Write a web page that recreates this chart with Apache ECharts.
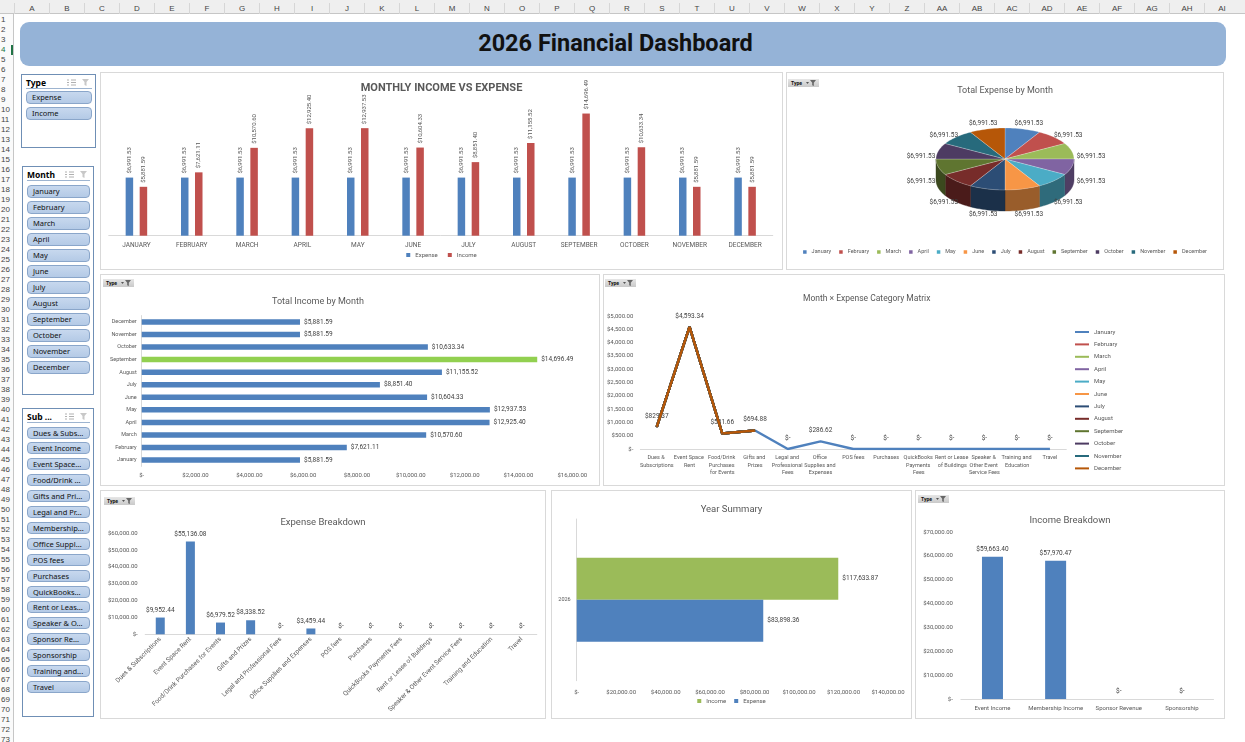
<!DOCTYPE html>
<html><head><meta charset="utf-8">
<script src="https://cdn.jsdelivr.net/npm/echarts@6/dist/echarts.min.js"></script>
<style>
body{margin:0;width:1245px;height:742px;overflow:hidden;background:#fff;position:relative;font-family:'Noto Sans',sans-serif}
#colhdr{position:absolute;left:0;top:0;width:1245px;height:14px;background:#EFEFEF;border-bottom:1px solid #C6C6C6;box-sizing:border-box}
.col{position:absolute;top:3px;width:35px;height:11px;text-align:center;font:8px 'Liberation Sans',sans-serif;color:#444;line-height:11px;border-left:1px solid #D6D6D6;box-sizing:border-box}
#rowhdr{position:absolute;left:0;top:14px;width:14px;height:728px;border-right:1px solid #C6C6C6;box-sizing:border-box;background:#FAFAFA}
.row{position:absolute;left:1px;width:12px;height:10px;font:8px 'Liberation Sans',sans-serif;color:#444;line-height:10px}
.row.sel{color:#217346;border-right:2px solid #217346;box-sizing:border-box}
#banner{position:absolute;left:20px;top:22px;width:1206px;height:44px;background:#95B3D7;border-radius:9px}
#banner span{position:absolute;left:436px;top:0;width:319px;height:44px;text-align:center;white-space:nowrap;font:bold 23.5px Roboto,sans-serif;line-height:43px;color:#111}
.panel{position:absolute;border:1px solid #D9D9D9;box-sizing:border-box;background:#fff}
.panel .ch{position:absolute;left:0;top:0;width:100%;height:100%}
.fbtn{position:absolute;width:31px;height:8px;background:linear-gradient(#E6E6E6,#C9C9C9);z-index:3;font:bold 5px Roboto,sans-serif;line-height:8px;color:#111;padding-left:3px;box-sizing:border-box}
.fbtn svg{position:absolute;right:3px;top:1px}
.slicer{position:absolute;border:1px solid #6F8FB5;box-sizing:border-box;background:#fff}
.slicer .hd{position:absolute;left:4px;top:2px;right:3px;height:11px;border-bottom:1px solid #9DB4D0;font:bold 8.5px 'Noto Sans',sans-serif;line-height:11px;color:#000}
.slicer .hd svg{position:absolute;top:2px}
.slicer .it{position:absolute;left:4px;right:3px;background:linear-gradient(#C7D8EE,#B4CAE6);border:1px solid #8AA6CA;border-radius:4px;box-sizing:border-box;font:7.5px 'Noto Sans',sans-serif;color:#111;padding-left:5px;white-space:nowrap;overflow:hidden}
</style></head>
<body>
<div id="colhdr"></div>
<div id="rowhdr"></div>
<div id="banner"><span>2026 Financial Dashboard</span></div>

<div class="slicer" id="slType" style="left:21px;top:74px;width:75px;height:74px"></div>
<div class="slicer" id="slMonth" style="left:22px;top:166px;width:72px;height:229px"></div>
<div class="slicer" id="slSub" style="left:22px;top:408px;width:72px;height:309px"></div>

<div class="panel" style="left:100px;top:72px;width:683px;height:198px"><div class="ch" id="c1"></div></div>
<div class="panel" style="left:786px;top:72px;width:438px;height:198px"><div class="ch" id="c2"></div><div class="fbtn" style="left:1px;top:6px">Type</div></div>
<div class="panel" style="left:100px;top:274px;width:500px;height:212px"><div class="ch" id="c3"></div><div class="fbtn" style="left:2px;top:4px">Type</div></div>
<div class="panel" style="left:603px;top:274px;width:622px;height:212px"><div class="ch" id="c4"></div><div class="fbtn" style="left:1px;top:4px">Type</div></div>
<div class="panel" style="left:100px;top:490px;width:446px;height:229px"><div class="ch" id="c5"></div><div class="fbtn" style="left:3px;top:6px">Type</div></div>
<div class="panel" style="left:551px;top:490px;width:361px;height:229px"><div class="ch" id="c6"></div></div>
<div class="panel" style="left:915px;top:490px;width:310px;height:229px"><div class="ch" id="c7"></div><div class="fbtn" style="left:2px;top:4px">Type</div></div>

<script>
// ---------------- DATA ----------------
const months = ['January','February','March','April','May','June','July','August','September','October','November','December'];
const monthlyExpense = [6991.53,6991.53,6991.53,6991.53,6991.53,6991.53,6991.53,6991.53,6991.53,6991.53,6991.53,6991.53];
const monthlyIncome = [5881.59,7621.11,10570.60,12925.40,12937.53,10604.33,8851.40,11155.52,14696.49,10633.34,5881.59,5881.59];
const highlightMonth = 'September';
const expenseCategories = ['Dues & Subscriptions','Event Space Rent','Food/Drink Purchases for Events','Gifts and Prizes','Legal and Professional Fees','Office Supplies and Expenses','POS fees','Purchases','QuickBooks Payments Fees','Rent or Lease of Buildings','Speaker & Other Event Service Fees','Training and Education','Travel'];
const expenseTotals = [9952.44,55136.08,6979.52,8338.52,0,3459.44,0,0,0,0,0,0,0];
const matrixJanuary = [829.37,4593.34,581.66,694.88,0,286.62,0,0,0,0,0,0,0];
const matrixOtherMonths = [829.37,4593.34,581.66,694.88,null,null,null,null,null,null,null,null,null];
const incomeCategories = ['Event Income','Membership Income','Sponsor Revenue','Sponsorship'];
const incomeTotals = [59663.40,57970.47,0,0];
const yearLabels = ['2026'];
const yearIncome = [117633.87];
const yearExpense = [83898.36];
const typeItems = ['Expense','Income'];
const subItems = ['Dues & Subs...','Event Income','Event Space...','Food/Drink ...','Gifts and Pri...','Legal and Pr...','Membership...','Office Suppl...','POS fees','Purchases','QuickBooks...','Rent or Leas...','Speaker & O...','Sponsor Re...','Sponsorship','Training and...','Travel'];

// ---------------- STYLE ----------------
const palette = ['#4F81BD','#C0504D','#9BBB59','#8064A2','#4BACC6','#F79646','#2C4D75','#772C2A','#5F7530','#4D3B62','#276A7C','#B65708'];
const FF = 'Roboto, sans-serif';
const TXT = '#595959';
function money(v){ if (v === 0 || v === null) return '$-'; return '$' + Number(v).toLocaleString('en-US',{minimumFractionDigits:2,maximumFractionDigits:2}); }
function darken(hex, f){ const n=parseInt(hex.slice(1),16); const r=(n>>16)&255,g=(n>>8)&255,b=n&255; return 'rgb('+Math.round(r*f)+','+Math.round(g*f)+','+Math.round(b*f)+')'; }

// ---------------- SHEET CHROME ----------------
(function(){
  const ch = document.getElementById('colhdr');
  for (let i=0;i<35;i++){
    const L = i<26 ? String.fromCharCode(65+i) : 'A'+String.fromCharCode(65+i-26);
    const d=document.createElement('div'); d.className='col'; d.style.left=(14+35*i)+'px'; d.textContent=L; ch.appendChild(d);
  }
  const rh = document.getElementById('rowhdr');
  for (let r=1;r<=73;r++){
    const d=document.createElement('div'); d.className='row'+(r===4?' sel':''); d.style.top=(0.5+10*(r-1))+'px'; d.textContent=r; rh.appendChild(d);
  }
  const icons = '<svg width="9" height="7" style="right:16px"><g stroke="#B0B0B0" stroke-width="1"><line x1="4" y1="1" x2="9" y2="1"/><line x1="4" y1="3.5" x2="9" y2="3.5"/><line x1="4" y1="6" x2="9" y2="6"/><line x1="0" y1="1" x2="2" y2="1"/><line x1="0" y1="3.5" x2="2" y2="3.5"/><line x1="0" y1="6" x2="2" y2="6"/></g></svg>'+
                '<svg width="8" height="7" style="right:2px"><path d="M0 0 H7 L4.5 3 V7 L2.5 6 V3 Z" fill="#C8C8C8"/></svg>';
  function slicer(id, title, items, startTop, step, h){
    const el=document.getElementById(id);
    el.innerHTML='<div class="hd">'+title+icons+'</div>';
    items.forEach((t,i)=>{ const d=document.createElement('div'); d.className='it'; d.style.top=(startTop+step*i)+'px'; d.style.height=h+'px'; d.style.lineHeight=(h-2)+'px'; d.textContent=t; el.appendChild(d); });
  }
  slicer('slType','Type',typeItems,16,16,13);
  slicer('slMonth','Month',months,18,16,13);
  slicer('slSub','Sub ...',subItems,17.5,15.9,12);
  document.querySelectorAll('.fbtn').forEach(b=>{ b.innerHTML='Type<svg width="10" height="6"><path d="M0 2 L3 2 L1.5 4 Z" fill="#555"/><path d="M4 0 H10 L7.8 2.8 V6 L6.2 5.2 V2.8 Z" fill="#666"/></svg>'; });
})();

function mk(id){ return echarts.init(document.getElementById(id), null, {renderer:'canvas'}); }

// ---------------- CHART 1: Monthly Income vs Expense ----------------
mk('c1').setOption({
  animation:false, textStyle:{fontFamily:FF},
  title:{text:'MONTHLY INCOME VS EXPENSE', left:'center', top:5, textStyle:{fontSize:11, fontWeight:'bold', color:TXT, fontFamily:FF}},
  legend:{data:['Expense','Income'], bottom:6, icon:'rect', itemWidth:4, itemHeight:4, itemGap:10, textStyle:{fontSize:6, color:TXT}},
  grid:{left:7.75, right:9.25, top:29.7, bottom:33.3},
  xAxis:{type:'category', data:months.map(m=>m.toUpperCase()), axisLine:{lineStyle:{color:'#D9D9D9'}}, axisTick:{show:false}, axisLabel:{fontSize:6.5, color:TXT, margin:6, interval:0}},
  yAxis:{type:'value', min:0, max:16000, show:false, splitLine:{show:false}},
  series:[
    {name:'Expense', type:'bar', data:monthlyExpense, barWidth:7.5, barGap:'87%', itemStyle:{color:'#4F81BD'},
     label:{show:true, position:'top', rotate:90, align:'left', verticalAlign:'middle', distance:4, fontSize:6, color:TXT, formatter:p=>money(p.value)}},
    {name:'Income', type:'bar', data:monthlyIncome, barWidth:7.5, itemStyle:{color:'#C0504D'},
     label:{show:true, position:'top', rotate:90, align:'left', verticalAlign:'middle', distance:4, fontSize:6, color:TXT, formatter:p=>money(p.value)}}
  ]
});

// ---------------- CHART 2: Total Expense by Month (3D-look pie) ----------------
(function(){
  const cx=218, cy=86, rx=69, ry=31, depth=21;
  const lcx=219, lcy=96, lrx=88, lry=47;
  const total = monthlyExpense.reduce((a,b)=>a+b,0);
  let acc=0; const pieData = monthlyExpense.map((v,i)=>{ const d={name:months[i], value:[v,acc]}; acc+=v; return d; });
  function arc(s,e,dy){ const pts=[]; const n=Math.max(2,Math.ceil((e-s)/0.04)); for(let k=0;k<=n;k++){ const a=s+(e-s)*k/n; pts.push([cx+rx*Math.sin(a), cy-ry*Math.cos(a)+dy]); } return pts; }
  mk('c2').setOption({
    animation:false, textStyle:{fontFamily:FF}, color:palette,
    title:{text:'Total Expense by Month', left:'center', top:8, textStyle:{fontSize:9, fontWeight:'normal', color:TXT, fontFamily:FF}},
    legend:{data:months, top:171, left:'center', icon:'rect', itemWidth:3.5, itemHeight:3.5, itemGap:8, textStyle:{fontSize:5.5, color:TXT}},
    series:[
      {type:'pie', radius:[0,1], center:[cx,cy], z:1, silent:true, label:{show:false}, labelLine:{show:false},
       data:monthlyExpense.map((v,i)=>({name:months[i], value:v}))},
      {type:'custom', coordinateSystem:'none', z:3, silent:true, data:pieData,
       renderItem:function(params, api){
         const v=api.value(0), before=api.value(1);
         const a1=before/total*2*Math.PI, a2=(before+v)/total*2*Math.PI;
         const col=palette[params.dataIndex];
         const children=[];
         const s1=Math.max(a1,Math.PI/2), s2=Math.min(a2,1.5*Math.PI);
         if (s2>s1){
           const top=arc(s1,s2,0), bot=arc(s1,s2,depth).reverse();
           children.push({type:'polygon', shape:{points:top.concat(bot)}, style:{fill:darken(col,0.62), stroke:darken(col,0.55), lineWidth:0.4}, z2:1});
         }
         children.push({type:'polygon', shape:{points:[[cx,cy]].concat(arc(a1,a2,0))}, style:{fill:col, stroke:'rgba(255,255,255,0.45)', lineWidth:0.5}, z2:2});
         const m=(a1+a2)/2;
         children.push({type:'text', x:lcx+lrx*Math.sin(m), y:lcy-lry*Math.cos(m), style:{text:money(v), fontSize:6.5, fill:'#404040', align:'center', verticalAlign:'middle', fontFamily:FF}, z2:3});
         return {type:'group', children:children};
       }}
    ]
  });
})();

// ---------------- CHART 3: Total Income by Month ----------------
mk('c3').setOption({
  animation:false, textStyle:{fontFamily:FF},
  title:{text:'Total Income by Month', left:166, top:17, textStyle:{fontSize:9, fontWeight:'normal', color:TXT, fontFamily:FF}},
  grid:{left:40.7, right:26.7, top:40.6, bottom:18.6},
  xAxis:{type:'value', min:0, max:16000, interval:2000, axisLine:{show:false}, axisTick:{show:false}, splitLine:{show:false}, axisLabel:{fontSize:6, color:TXT, margin:6, formatter:v=>money(v)}},
  yAxis:{type:'category', data:months, axisLine:{show:true, lineStyle:{color:'#D9D9D9'}}, axisTick:{show:false}, axisLabel:{fontSize:5.5, color:TXT, margin:5, interval:0}},
  series:[{type:'bar', barWidth:5.5, itemStyle:{color:'#4F81BD'},
    data:monthlyIncome.map((v,i)=> months[i]===highlightMonth ? {value:v, itemStyle:{color:'#92D050'}} : v),
    label:{show:true, position:'right', distance:4, fontSize:6.5, color:'#404040', formatter:p=>money(p.value)}}]
});

// ---------------- CHART 4: Month x Expense Category Matrix ----------------
mk('c4').setOption({
  animation:false, textStyle:{fontFamily:FF},
  title:{text:'Month × Expense Category Matrix', left:194, top:14, textStyle:{fontSize:8.5, fontWeight:'normal', color:TXT, fontFamily:FF}},
  legend:{data:months, orient:'vertical', left:466, top:48, icon:'rect', itemWidth:14, itemHeight:2, itemGap:4.4, textStyle:{fontSize:6, lineHeight:8, color:TXT}},
  grid:{left:33.8, right:157.7, top:41, bottom:36},
  xAxis:{type:'category', data:expenseCategories, axisLine:{lineStyle:{color:'#D9D9D9'}}, axisTick:{show:false},
         axisLabel:{interval:0, fontSize:5.5, lineHeight:7.5, width:34, overflow:'break', color:TXT, margin:5}},
  yAxis:{type:'value', min:0, max:5000, interval:500, axisLine:{show:false}, axisTick:{show:false}, splitLine:{show:false}, axisLabel:{fontSize:6, color:TXT, margin:7, formatter:v=>money(v)}},
  series:months.map((m,i)=>({name:m, type:'line', data: i===0 ? matrixJanuary : matrixOtherMonths, color:palette[i],
    symbol:'circle', symbolSize:0.5, lineStyle:{width:2.5, color:palette[i]}, itemStyle:{color:palette[i]}, z: i===0 ? 2 : 3,
    label: i===0 ? {show:true, position:'top', distance:7, fontSize:6.5, color:'#404040', formatter:p=>money(p.value)} : {show:false}}))
});

// ---------------- CHART 5: Expense Breakdown ----------------
mk('c5').setOption({
  animation:false, textStyle:{fontFamily:FF},
  title:{text:'Expense Breakdown', left:'center', top:22, textStyle:{fontSize:9.5, fontWeight:'normal', color:TXT, fontFamily:FF}},
  grid:{left:44.2, right:8.2, top:42.3, bottom:83.7},
  xAxis:{type:'category', data:expenseCategories, axisLine:{lineStyle:{color:'#D9D9D9'}}, axisTick:{show:false}, axisLabel:{interval:0, rotate:45, fontSize:6.5, color:TXT, margin:4}},
  yAxis:{type:'value', min:0, max:60000, interval:10000, axisLine:{show:false}, axisTick:{show:false}, splitLine:{show:false}, axisLabel:{fontSize:6, color:TXT, margin:7.5, formatter:v=>money(v)}},
  series:[{type:'bar', data:expenseTotals, barWidth:9, itemStyle:{color:'#4F81BD'},
    label:{show:true, position:'top', distance:4, fontSize:6.5, color:'#404040', formatter:p=>money(p.value)}}]
});

// ---------------- CHART 6: Year Summary ----------------
mk('c6').setOption({
  animation:false, textStyle:{fontFamily:FF},
  title:{text:'Year Summary', left:'center', top:9, textStyle:{fontSize:9.5, fontWeight:'normal', color:TXT, fontFamily:FF}},
  legend:{data:['Income','Expense'], bottom:9, icon:'rect', itemWidth:4, itemHeight:4, itemGap:8, textStyle:{fontSize:6, color:TXT}},
  grid:{left:24.7, right:23, top:28, bottom:37.3},
  xAxis:{type:'value', min:0, max:140000, interval:20000, axisLine:{show:false}, axisTick:{show:false}, splitLine:{show:false}, axisLabel:{fontSize:6, color:TXT, margin:9, formatter:v=>money(v)}},
  yAxis:{type:'category', data:yearLabels, axisLine:{show:true, lineStyle:{color:'#D9D9D9'}}, axisTick:{show:false}, axisLabel:{fontSize:5.5, color:TXT, margin:6}},
  series:[
    {name:'Income', type:'bar', data:yearIncome, barWidth:42, barGap:'0%', itemStyle:{color:'#9BBB59'},
     label:{show:true, position:'right', distance:4, fontSize:6.5, color:'#404040', formatter:p=>money(p.value)}},
    {name:'Expense', type:'bar', data:yearExpense, barWidth:42, itemStyle:{color:'#4F81BD'},
     label:{show:true, position:'right', distance:4, fontSize:6.5, color:'#404040', formatter:p=>money(p.value)}}
  ]
});

// ---------------- CHART 7: Income Breakdown ----------------
mk('c7').setOption({
  animation:false, textStyle:{fontFamily:FF},
  title:{text:'Income Breakdown', left:'center', top:20, textStyle:{fontSize:9.5, fontWeight:'normal', color:TXT, fontFamily:FF}},
  grid:{left:44.9, right:10.5, top:41, bottom:19},
  xAxis:{type:'category', data:incomeCategories, axisLine:{lineStyle:{color:'#D9D9D9'}}, axisTick:{show:false}, axisLabel:{interval:0, fontSize:6, color:TXT, margin:6}},
  yAxis:{type:'value', min:0, max:70000, interval:10000, axisLine:{show:false}, axisTick:{show:false}, splitLine:{show:false}, axisLabel:{fontSize:6, color:TXT, margin:8, formatter:v=>money(v)}},
  series:[{type:'bar', data:incomeTotals, barWidth:21, itemStyle:{color:'#4F81BD'},
    label:{show:true, position:'top', distance:4, fontSize:6.5, color:'#404040', formatter:p=>money(p.value)}}]
});
</script>
</body></html>
